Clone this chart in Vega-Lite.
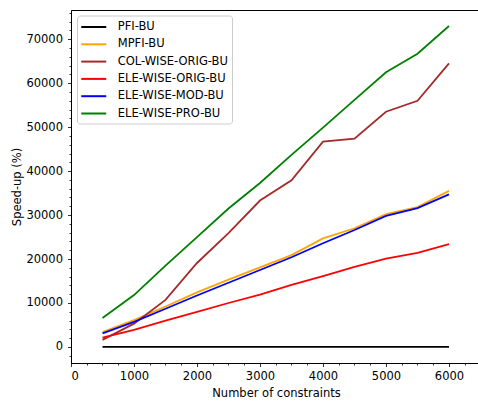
{
  "$schema": "https://vega.github.io/schema/vega-lite/v6.json",
  "width": 410,
  "height": 353,
  "autosize": {"type": "none"},
  "padding": {"left": 71, "top": 10, "right": 0, "bottom": 40},
  "background": "white",
  "config": {
    "font": "DejaVu Sans",
    "view": {"stroke": "black", "strokeWidth": 1}
  },
  "data": {
    "values": [
      {"n": 500, "s": "PFI-BU", "v": 0}, {"n": 1000, "s": "PFI-BU", "v": 0}, {"n": 1500, "s": "PFI-BU", "v": 0}, {"n": 2000, "s": "PFI-BU", "v": 0}, {"n": 2500, "s": "PFI-BU", "v": 0}, {"n": 3000, "s": "PFI-BU", "v": 0}, {"n": 3500, "s": "PFI-BU", "v": 0}, {"n": 4000, "s": "PFI-BU", "v": 0}, {"n": 4500, "s": "PFI-BU", "v": 0}, {"n": 5000, "s": "PFI-BU", "v": 0}, {"n": 5500, "s": "PFI-BU", "v": 0}, {"n": 6000, "s": "PFI-BU", "v": 0},
      {"n": 500, "s": "MPFI-BU", "v": 3400}, {"n": 1000, "s": "MPFI-BU", "v": 6100}, {"n": 1500, "s": "MPFI-BU", "v": 9200}, {"n": 2000, "s": "MPFI-BU", "v": 12400}, {"n": 2500, "s": "MPFI-BU", "v": 15300}, {"n": 3000, "s": "MPFI-BU", "v": 18100}, {"n": 3500, "s": "MPFI-BU", "v": 20900}, {"n": 4000, "s": "MPFI-BU", "v": 24700}, {"n": 4500, "s": "MPFI-BU", "v": 27000}, {"n": 5000, "s": "MPFI-BU", "v": 30200}, {"n": 5500, "s": "MPFI-BU", "v": 31800}, {"n": 6000, "s": "MPFI-BU", "v": 35500},
      {"n": 500, "s": "COL-WISE-ORIG-BU", "v": 1600}, {"n": 1000, "s": "COL-WISE-ORIG-BU", "v": 5300}, {"n": 1500, "s": "COL-WISE-ORIG-BU", "v": 10700}, {"n": 2000, "s": "COL-WISE-ORIG-BU", "v": 19100}, {"n": 2500, "s": "COL-WISE-ORIG-BU", "v": 25900}, {"n": 3000, "s": "COL-WISE-ORIG-BU", "v": 33300}, {"n": 3500, "s": "COL-WISE-ORIG-BU", "v": 37900}, {"n": 4000, "s": "COL-WISE-ORIG-BU", "v": 46700}, {"n": 4500, "s": "COL-WISE-ORIG-BU", "v": 47400}, {"n": 5000, "s": "COL-WISE-ORIG-BU", "v": 53500}, {"n": 5500, "s": "COL-WISE-ORIG-BU", "v": 56000}, {"n": 6000, "s": "COL-WISE-ORIG-BU", "v": 64500},
      {"n": 500, "s": "ELE-WISE-ORIG-BU", "v": 2100}, {"n": 1000, "s": "ELE-WISE-ORIG-BU", "v": 3900}, {"n": 1500, "s": "ELE-WISE-ORIG-BU", "v": 6000}, {"n": 2000, "s": "ELE-WISE-ORIG-BU", "v": 8000}, {"n": 2500, "s": "ELE-WISE-ORIG-BU", "v": 10000}, {"n": 3000, "s": "ELE-WISE-ORIG-BU", "v": 11900}, {"n": 3500, "s": "ELE-WISE-ORIG-BU", "v": 14100}, {"n": 4000, "s": "ELE-WISE-ORIG-BU", "v": 16100}, {"n": 4500, "s": "ELE-WISE-ORIG-BU", "v": 18200}, {"n": 5000, "s": "ELE-WISE-ORIG-BU", "v": 20100}, {"n": 5500, "s": "ELE-WISE-ORIG-BU", "v": 21400}, {"n": 6000, "s": "ELE-WISE-ORIG-BU", "v": 23400},
      {"n": 500, "s": "ELE-WISE-MOD-BU", "v": 3100}, {"n": 1000, "s": "ELE-WISE-MOD-BU", "v": 5700}, {"n": 1500, "s": "ELE-WISE-MOD-BU", "v": 8700}, {"n": 2000, "s": "ELE-WISE-MOD-BU", "v": 11700}, {"n": 2500, "s": "ELE-WISE-MOD-BU", "v": 14600}, {"n": 3000, "s": "ELE-WISE-MOD-BU", "v": 17500}, {"n": 3500, "s": "ELE-WISE-MOD-BU", "v": 20400}, {"n": 4000, "s": "ELE-WISE-MOD-BU", "v": 23600}, {"n": 4500, "s": "ELE-WISE-MOD-BU", "v": 26600}, {"n": 5000, "s": "ELE-WISE-MOD-BU", "v": 29800}, {"n": 5500, "s": "ELE-WISE-MOD-BU", "v": 31600}, {"n": 6000, "s": "ELE-WISE-MOD-BU", "v": 34700},
      {"n": 500, "s": "ELE-WISE-PRO-BU", "v": 6600}, {"n": 1000, "s": "ELE-WISE-PRO-BU", "v": 11800}, {"n": 1500, "s": "ELE-WISE-PRO-BU", "v": 18500}, {"n": 2000, "s": "ELE-WISE-PRO-BU", "v": 25000}, {"n": 2500, "s": "ELE-WISE-PRO-BU", "v": 31500}, {"n": 3000, "s": "ELE-WISE-PRO-BU", "v": 37300}, {"n": 3500, "s": "ELE-WISE-PRO-BU", "v": 43700}, {"n": 4000, "s": "ELE-WISE-PRO-BU", "v": 49900}, {"n": 4500, "s": "ELE-WISE-PRO-BU", "v": 56200}, {"n": 5000, "s": "ELE-WISE-PRO-BU", "v": 62500}, {"n": 5500, "s": "ELE-WISE-PRO-BU", "v": 66700}, {"n": 6000, "s": "ELE-WISE-PRO-BU", "v": 73000}
    ]
  },
  "mark": {"type": "line", "strokeWidth": 1.8},
  "encoding": {
    "x": {
      "field": "n", "type": "quantitative",
      "scale": {"domain": [0, 6508], "nice": false, "zero": false},
      "axis": {
        "title": "Number of constraints",
        "titleFont": "DejaVu Sans", "titleFontSize": 11.5, "titleFontWeight": "normal", "titleColor": "black", "titlePadding": 5,
        "values": [0, 250, 500, 750, 1000, 1250, 1500, 1750, 2000, 2250, 2500, 2750, 3000, 3250, 3500, 3750, 4000, 4250, 4500, 4750, 5000, 5250, 5500, 5750, 6000, 6250, 6500],
        "labelExpr": "datum.value % 1000 === 0 ? format(datum.value, 'd') : ''",
        "labelFontSize": 11.5, "labelColor": "black", "labelPadding": 4,
        "grid": false, "domainColor": "black", "domainWidth": 1,
        "tickColor": "black", "tickWidth": 0.8,
        "tickSize": {"condition": {"test": "datum.value % 1000 === 0", "value": 3.5}, "value": 2}
      }
    },
    "y": {
      "field": "v", "type": "quantitative",
      "scale": {"domain": [-3650, 76650], "nice": false, "zero": false},
      "axis": {
        "title": "Speed-up (%)",
        "titleFont": "DejaVu Sans", "titleFontSize": 11.5, "titleFontWeight": "normal", "titleColor": "black", "titlePadding": 3,
        "values": [-2000, 0, 2000, 4000, 6000, 8000, 10000, 12000, 14000, 16000, 18000, 20000, 22000, 24000, 26000, 28000, 30000, 32000, 34000, 36000, 38000, 40000, 42000, 44000, 46000, 48000, 50000, 52000, 54000, 56000, 58000, 60000, 62000, 64000, 66000, 68000, 70000, 72000, 74000, 76000],
        "labelExpr": "datum.value % 10000 === 0 ? format(datum.value, 'd') : ''",
        "labelFontSize": 11.5, "labelColor": "black", "labelPadding": 5,
        "grid": false, "domainColor": "black", "domainWidth": 1,
        "tickColor": "black", "tickWidth": 0.8,
        "tickSize": {"condition": {"test": "datum.value % 10000 === 0", "value": 3.5}, "value": 2}
      }
    },
    "color": {
      "field": "s", "type": "nominal",
      "scale": {
        "domain": ["PFI-BU", "MPFI-BU", "COL-WISE-ORIG-BU", "ELE-WISE-ORIG-BU", "ELE-WISE-MOD-BU", "ELE-WISE-PRO-BU"],
        "range": ["#000000", "#FFA500", "#A52A2A", "#FF0000", "#0000FF", "#008000"]
      },
      "legend": {
        "title": null,
        "orient": "none", "legendX": 6, "legendY": 5.5,
        "symbolType": "M-2,0H2", "symbolSize": 156.25, "symbolStrokeWidth": 2, "symbolOffset": 5.25,
        "labelFontSize": 11.5, "labelColor": "black", "labelFont": "DejaVu Sans",
        "rowPadding": 4.3, "labelOffset": 16.5,
        "padding": 4, "strokeColor": "#cccccc", "fillColor": "white", "cornerRadius": 3
      }
    }
  }
}
